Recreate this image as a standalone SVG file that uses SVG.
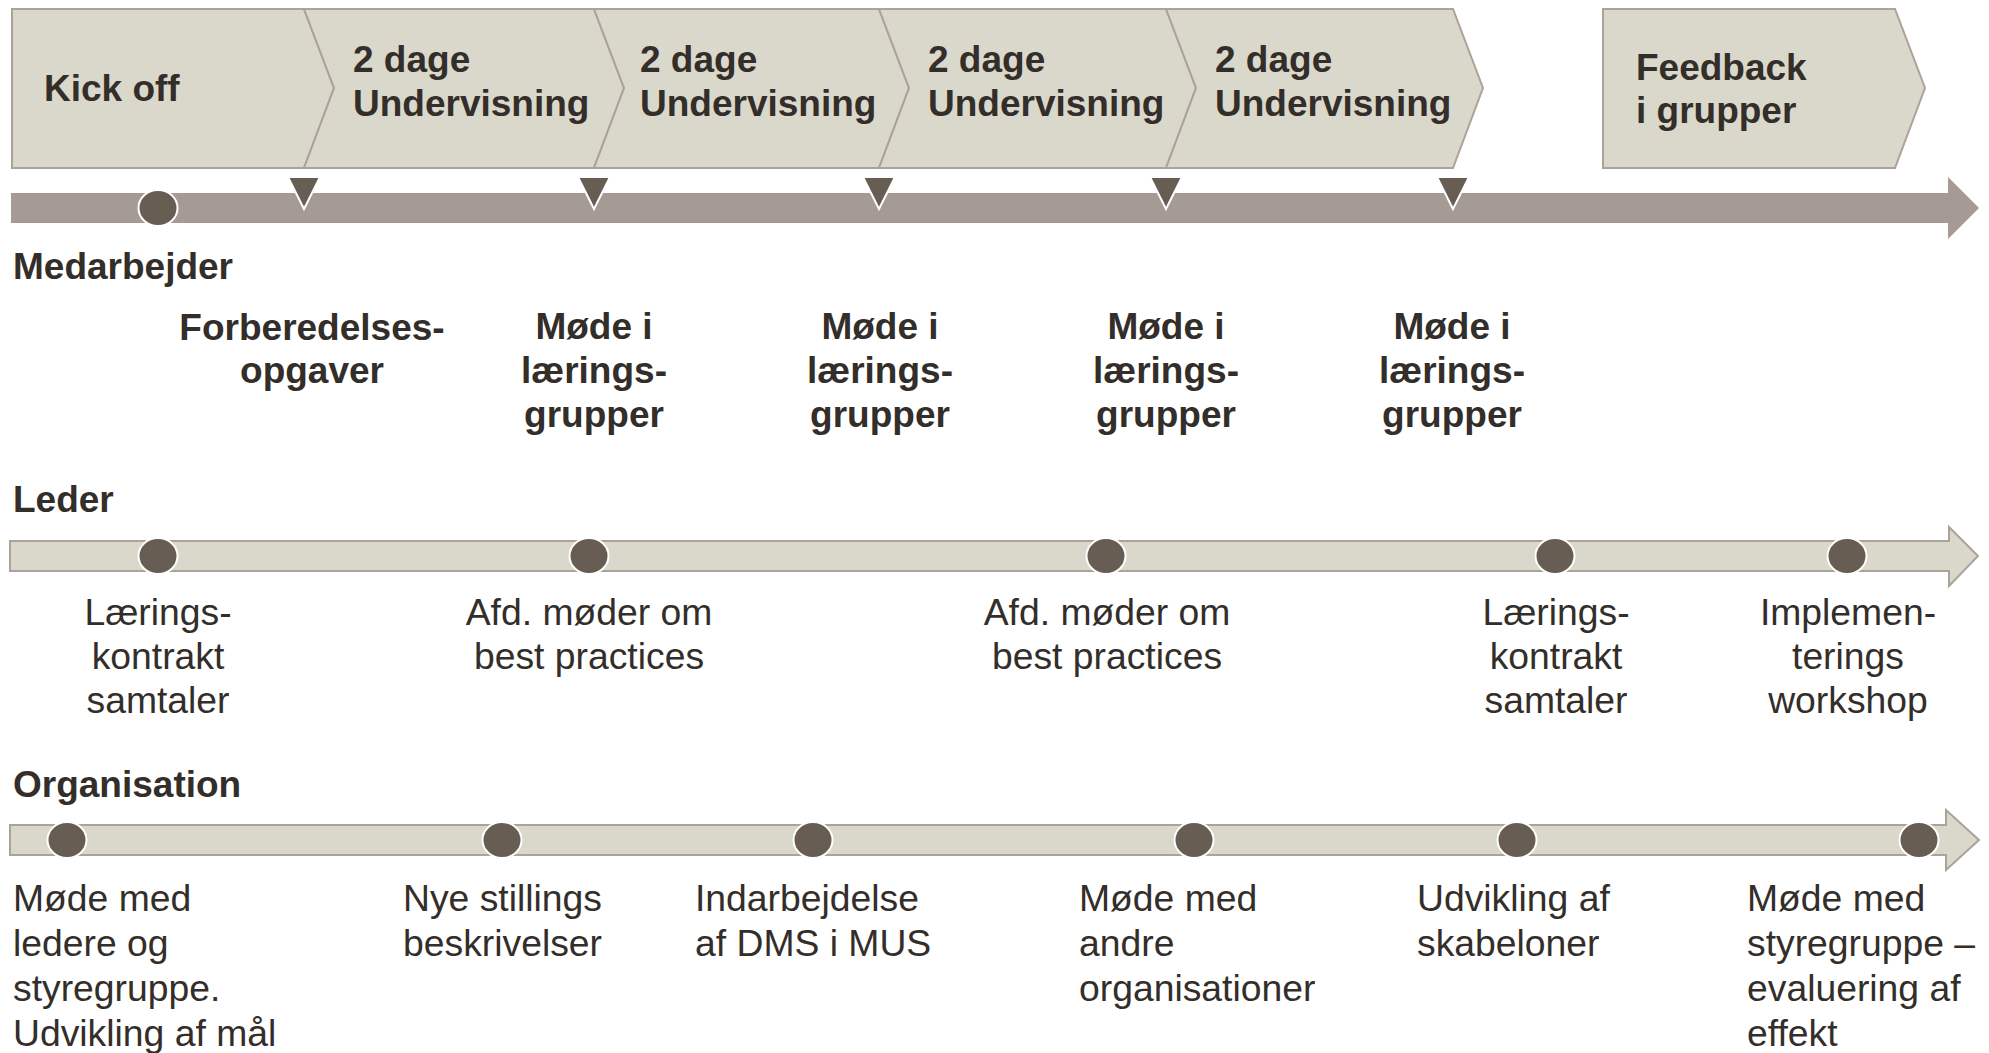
<svg xmlns="http://www.w3.org/2000/svg" width="1989" height="1053" viewBox="0 0 1989 1053">
<style>
  text { font-family: "Liberation Sans", Arial, sans-serif; font-size: 37.3px; fill: #332E2A; }
  .b { font-weight: bold; font-size: 37px; }
  .c { text-anchor: middle; }
  .box { fill: #DAD8CB; stroke: #ABA39B; stroke-width: 2; }
  .lane { fill: #DAD8CB; stroke: #ABA39B; stroke-width: 2; }
  .main { fill: #A59B94; }
  .dot { fill: #675D53; stroke: #FFFFFF; stroke-width: 2; }
  .tri { fill: #675D53; stroke: #FFFFFF; stroke-width: 2; stroke-linejoin: miter; }
</style>
<rect width="1989" height="1053" fill="#FFFFFF"/>

<!-- Top phase boxes -->
<g id="phase-kickoff">
  <polygon class="box" points="12,9 304,9 334,88 304,168 12,168"/>
  <text class="b" x="44" y="101">Kick off</text>
</g>
<g id="phase-1">
  <polygon class="box" points="304,9 594,9 624,88 594,168 304,168 334,88"/>
  <text class="b" x="353" y="72">2 dage</text>
  <text class="b" x="353" y="116">Undervisning</text>
</g>
<g id="phase-2">
  <polygon class="box" points="594,9 879,9 909,88 879,168 594,168 624,88"/>
  <text class="b" x="640" y="72">2 dage</text>
  <text class="b" x="640" y="116">Undervisning</text>
</g>
<g id="phase-3">
  <polygon class="box" points="879,9 1166,9 1196,88 1166,168 879,168 909,88"/>
  <text class="b" x="928" y="72">2 dage</text>
  <text class="b" x="928" y="116">Undervisning</text>
</g>
<g id="phase-4">
  <polygon class="box" points="1166,9 1453,9 1483,88 1453,168 1166,168 1196,88"/>
  <text class="b" x="1215" y="72">2 dage</text>
  <text class="b" x="1215" y="116">Undervisning</text>
</g>
<g id="phase-feedback">
  <polygon class="box" points="1603,9 1895,9 1925,88 1895,168 1603,168"/>
  <text class="b" x="1636" y="80">Feedback</text>
  <text class="b" x="1636" y="123">i grupper</text>
</g>

<!-- Timeline arrows (connectors) -->
<g id="connectors">
  <polygon id="arrow-medarbejder" class="main" points="11,193 1948,193 1948,177 1979,208 1948,239 1948,223 11,223"/>
  <polygon id="arrow-leder" class="lane" points="10,541 1949,541 1949,527 1978,556 1949,586 1949,571 10,571"/>
  <polygon id="arrow-organisation" class="lane" points="10,825 1946,825 1946,810 1979,840 1946,870 1946,855 10,855"/>
</g>

<!-- Lane labels -->
<g id="label-medarbejder"><text class="b" x="13" y="279">Medarbejder</text></g>
<g id="label-leder"><text class="b" x="13" y="512">Leder</text></g>
<g id="label-organisation"><text class="b" x="13" y="797">Organisation</text></g>

<!-- Medarbejder markers -->
<g id="m-kickoff-dot"><ellipse class="dot" cx="158" cy="208" rx="19.5" ry="18"/></g>
<g id="m-tri-1"><polygon class="tri" points="288,177 320,177 304,209"/></g>
<g id="m-tri-2"><polygon class="tri" points="578,177 610,177 594,209"/></g>
<g id="m-tri-3"><polygon class="tri" points="863,177 895,177 879,209"/></g>
<g id="m-tri-4"><polygon class="tri" points="1150,177 1182,177 1166,209"/></g>
<g id="m-tri-5"><polygon class="tri" points="1437,177 1469,177 1453,209"/></g>

<!-- Medarbejder items -->
<g id="m-forberedelse">
  <text class="b c" x="312" y="340">Forberedelses-</text>
  <text class="b c" x="312" y="383">opgaver</text>
</g>
<g id="m-moede-1">
  <text class="b c" x="594" y="339">Møde i</text>
  <text class="b c" x="594" y="383">lærings-</text>
  <text class="b c" x="594" y="427">grupper</text>
</g>
<g id="m-moede-2">
  <text class="b c" x="880" y="339">Møde i</text>
  <text class="b c" x="880" y="383">lærings-</text>
  <text class="b c" x="880" y="427">grupper</text>
</g>
<g id="m-moede-3">
  <text class="b c" x="1166" y="339">Møde i</text>
  <text class="b c" x="1166" y="383">lærings-</text>
  <text class="b c" x="1166" y="427">grupper</text>
</g>
<g id="m-moede-4">
  <text class="b c" x="1452" y="339">Møde i</text>
  <text class="b c" x="1452" y="383">lærings-</text>
  <text class="b c" x="1452" y="427">grupper</text>
</g>

<!-- Leder items -->
<g id="l-1">
  <ellipse class="dot" cx="158" cy="556" rx="19.5" ry="18"/>
  <text class="c" x="158" y="625">Lærings-</text>
  <text class="c" x="158" y="669">kontrakt</text>
  <text class="c" x="158" y="713">samtaler</text>
</g>
<g id="l-2">
  <ellipse class="dot" cx="589" cy="556" rx="19.5" ry="18"/>
  <text class="c" x="589" y="625">Afd. møder om</text>
  <text class="c" x="589" y="669">best practices</text>
</g>
<g id="l-3">
  <ellipse class="dot" cx="1106" cy="556" rx="19.5" ry="18"/>
  <text class="c" x="1107" y="625">Afd. møder om</text>
  <text class="c" x="1107" y="669">best practices</text>
</g>
<g id="l-4">
  <ellipse class="dot" cx="1555" cy="556" rx="19.5" ry="18"/>
  <text class="c" x="1556" y="625">Lærings-</text>
  <text class="c" x="1556" y="669">kontrakt</text>
  <text class="c" x="1556" y="713">samtaler</text>
</g>
<g id="l-5">
  <ellipse class="dot" cx="1847" cy="556" rx="19.5" ry="18"/>
  <text class="c" x="1848" y="625">Implemen-</text>
  <text class="c" x="1848" y="669">terings</text>
  <text class="c" x="1848" y="713">workshop</text>
</g>

<!-- Organisation items -->
<g id="o-1">
  <ellipse class="dot" cx="67" cy="840" rx="19.5" ry="18"/>
  <text x="13" y="911">Møde med</text>
  <text x="13" y="956">ledere og</text>
  <text x="13" y="1001">styregruppe.</text>
  <text x="13" y="1046">Udvikling af mål</text>
</g>
<g id="o-2">
  <ellipse class="dot" cx="502" cy="840" rx="19.5" ry="18"/>
  <text x="403" y="911">Nye stillings</text>
  <text x="403" y="956">beskrivelser</text>
</g>
<g id="o-3">
  <ellipse class="dot" cx="813" cy="840" rx="19.5" ry="18"/>
  <text x="695" y="911">Indarbejdelse</text>
  <text x="695" y="956">af DMS i MUS</text>
</g>
<g id="o-4">
  <ellipse class="dot" cx="1194" cy="840" rx="19.5" ry="18"/>
  <text x="1079" y="911">Møde med</text>
  <text x="1079" y="956">andre</text>
  <text x="1079" y="1001">organisationer</text>
</g>
<g id="o-5">
  <ellipse class="dot" cx="1517" cy="840" rx="19.5" ry="18"/>
  <text x="1417" y="911">Udvikling af</text>
  <text x="1417" y="956">skabeloner</text>
</g>
<g id="o-6">
  <ellipse class="dot" cx="1919" cy="840" rx="19.5" ry="18"/>
  <text x="1747" y="911">Møde med</text>
  <text x="1747" y="956">styregruppe –</text>
  <text x="1747" y="1001">evaluering af</text>
  <text x="1747" y="1046">effekt</text>
</g>
</svg>
